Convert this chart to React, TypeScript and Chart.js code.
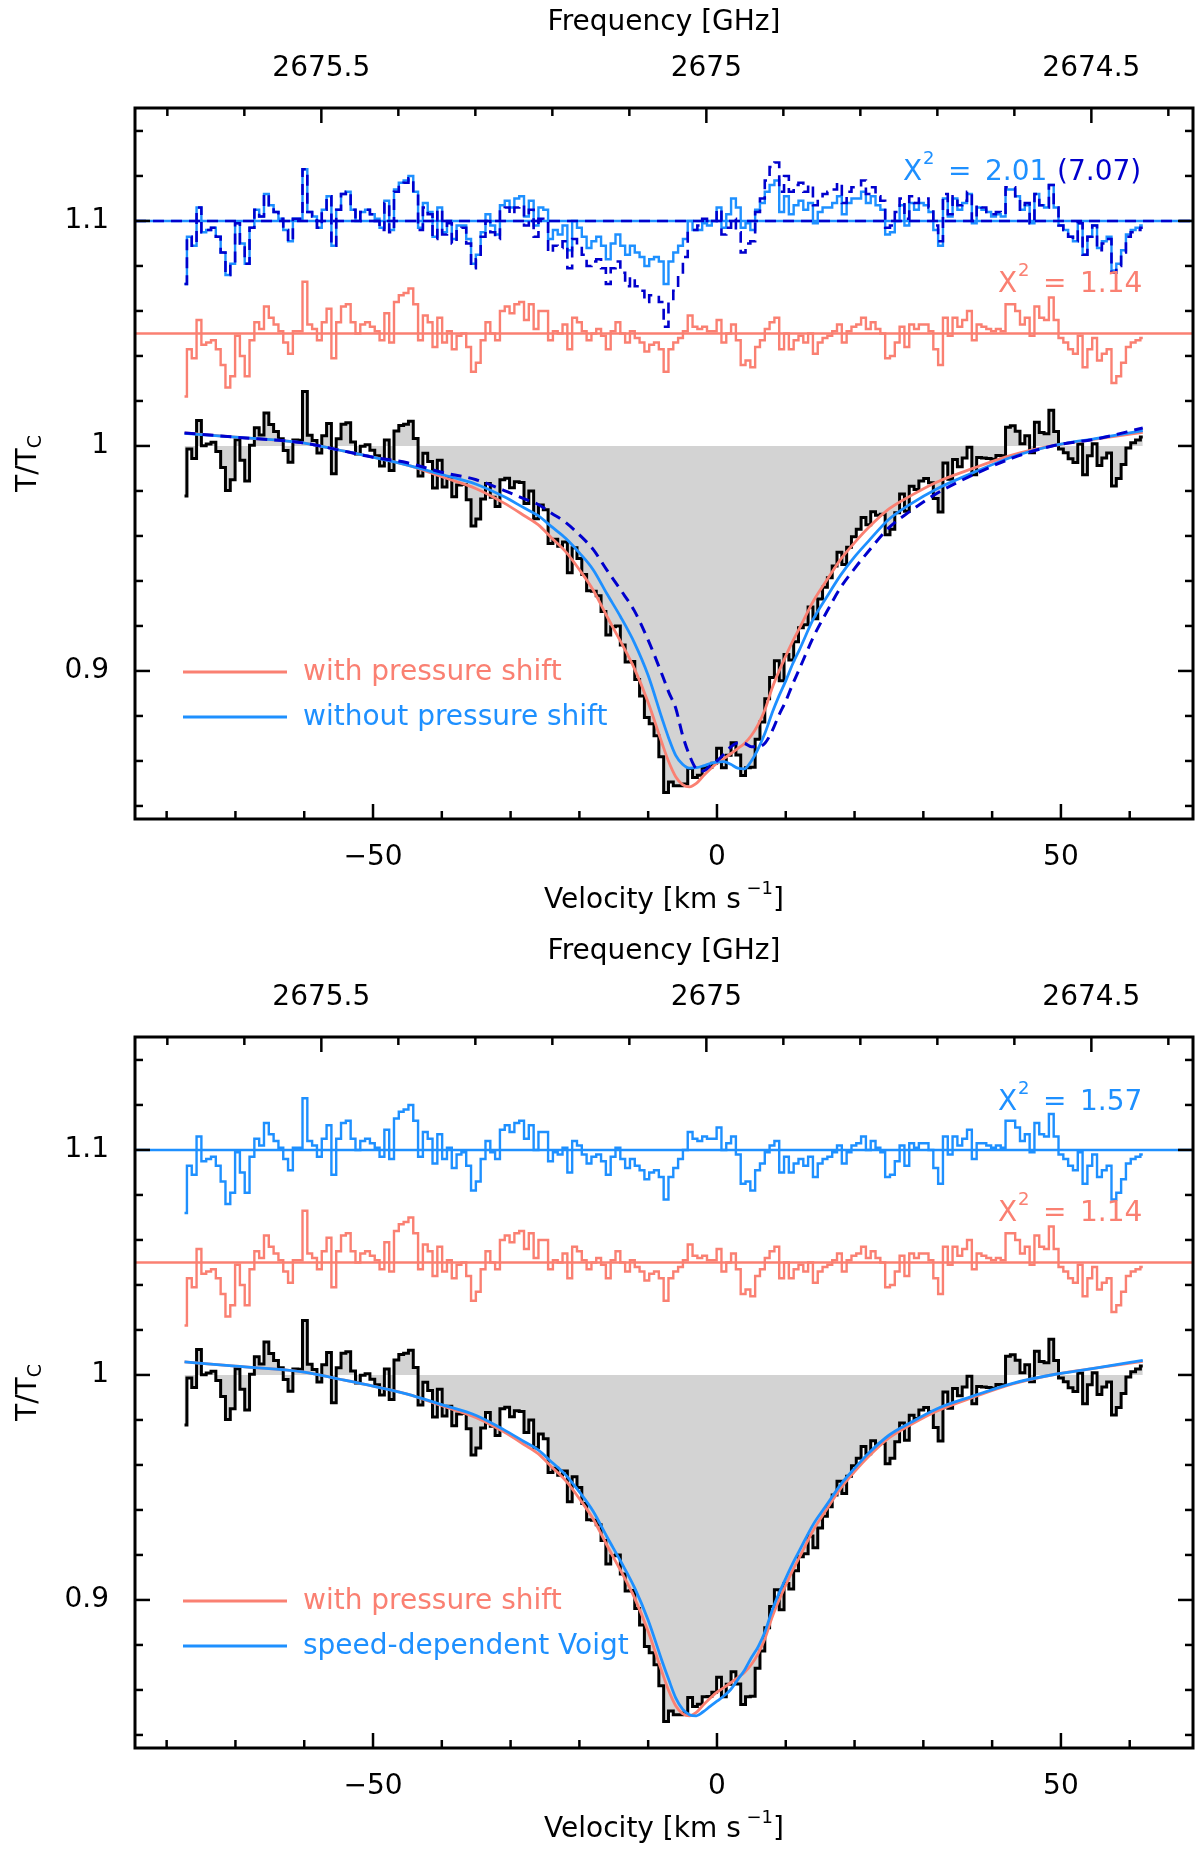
import React, { useEffect, useRef } from "react";
import { Chart, registerables } from "chart.js";

Chart.register(...registerables);

const FONT = "'DejaVu Sans', sans-serif";
const RED = "#fa8072";
const LIGHT_BLUE = "#1e90ff";
const DARK_BLUE = "#0000cd";
const GREY = "#d3d3d3";

// velocity channels (km/s): centre of first channel and channel width
const V_START = -77.4;
const V_STEP = 0.7;

// axis ranges
const V_MIN = -84.6;
const V_MAX = 69.2;
const F_MIN = 2674.368;
const F_MAX = 2675.742;
const Y_MIN = 0.8342;
const Y_MAX = 1.1502;

// labelled (major) ticks
const X_LABELS = [-50, 0, 50];
const FREQ_LABELS = [2675.5, 2675, 2674.5];
const Y_LABELS = [0.9, 1, 1.1];

// observed line-to-continuum ratio T/Tc per channel
const OBSERVED = [
  0.9778, 0.9986, 0.9944, 1.0113, 1.0001, 1.0009, 1.0017, 0.9975, 0.9904, 0.9802,
  0.985, 1.0028, 0.9936, 0.9844, 1.0003, 1.0081, 1.0049, 1.0147, 1.0095, 1.0064,
  1.0032, 0.998, 0.9928, 1.0026, 1.0025, 1.0242, 1.0048, 1.0024, 0.9969, 1.0045,
  1.01, 0.9876, 1.0032, 1.0097, 1.0103, 1.0018, 0.9964, 0.9999, 1.0005, 0.9981,
  0.9956, 0.9911, 1.0026, 0.9891, 1.0066, 1.0091, 1.0096, 1.011, 1.0033, 0.9866,
  0.9968, 0.9931, 0.9813, 0.9936, 0.9818, 0.9861, 0.9774, 0.9826, 0.9829, 0.9761,
  0.9644, 0.9675, 0.9764, 0.9833, 0.9772, 0.9731, 0.985, 0.9857, 0.9814, 0.9841,
  0.9838, 0.9744, 0.98, 0.9676, 0.9738, 0.9717, 0.9566, 0.9585, 0.9554, 0.9573,
  0.9436, 0.9548, 0.95, 0.9429, 0.9357, 0.9354, 0.9334, 0.9264, 0.916, 0.9196,
  0.92, 0.9115, 0.904, 0.9042, 0.8962, 0.8889, 0.8793, 0.8765, 0.8712, 0.8619,
  0.846, 0.8506, 0.849, 0.849, 0.8498, 0.8566, 0.8527, 0.8537, 0.857, 0.8571,
  0.859, 0.8656, 0.857, 0.8625, 0.8681, 0.8627, 0.8535, 0.857, 0.8572, 0.8697,
  0.8773, 0.8877, 0.8971, 0.9045, 0.8956, 0.9073, 0.9049, 0.913, 0.9192, 0.9205,
  0.9284, 0.9232, 0.932, 0.9372, 0.9414, 0.9466, 0.9528, 0.9473, 0.955, 0.9596,
  0.963, 0.9682, 0.965, 0.9708, 0.9692, 0.9696, 0.9605, 0.963, 0.9703, 0.9787,
  0.971, 0.9821, 0.9807, 0.9844, 0.9855, 0.9836, 0.9767, 0.9706, 0.9924, 0.9852,
  0.994, 0.9908, 0.9946, 0.9994, 0.9872, 0.9949, 0.9946, 0.9944, 0.9941, 0.9958,
  0.9956, 1.0083, 1.009, 1.0065, 1.001, 1.0045, 0.997, 1.0105, 1.006, 1.0054,
  1.0159, 1.0064, 0.9987, 0.997, 0.9943, 0.9926, 1.0009, 0.9872, 0.9956, 1.001,
  0.9913, 0.9946, 0.9969, 0.9822, 0.9855, 0.9918, 0.9991, 1.0014, 1.0027, 1.004,
];

// residuals in units of 1e-3, drawn around offset baselines
const RESID_PS = [
  -28, -7, -11, 6, -5, -4, -3, -7, -14, -24,
  -19, -1, -10, -19, -3, 5, 2, 12, 7, 4,
  1, -4, -9, 1, 1, 23, 4, 2, -3, 5,
  11, -11, 5, 12, 13, 5, 0, 4, 5, 3,
  1, -3, 9, -4, 14, 17, 18, 20, 13, -3,
  8, 5, -6, 7, -4, 1, -7, -1, 0, -6,
  -17, -13, -3, 5, 0, -3, 10, 12, 9, 13,
  14, 6, 13, 2, 10, 10, -3, 1, 0, 4,
  -7, 7, 5, 1, -3, 0, 2, -1, -7, 1,
  5, 0, -4, 1, -2, -4, -8, -5, -4, -7,
  -17, -7, -4, -2, 1, 8, 3, 2, 3, 1,
  1, 6, -4, 0, 4, -3, -14, -12, -15, -6,
  -3, 2, 5, 7, -7, 0, -7, -3, -1, -4,
  0, -9, -4, -2, -1, 1, 4, -4, 1, 3,
  4, 7, 2, 5, 2, 0, -11, -10, -4, 3,
  -6, 4, 2, 4, 4, 1, -7, -14, 7, -1,
  7, 3, 6, 10, -3, 4, 3, 2, 1, 2,
  1, 13, 13, 10, 4, 7, -1, 12, 7, 6,
  16, 6, -2, -4, -7, -9, -1, -15, -7, -2,
  -12, -9, -7, -22, -19, -13, -6, -4, -3, -2,
];

const RESID_NOPS = [
  -28, -7, -11, 6, -5, -4, -3, -7, -14, -24,
  -19, -1, -10, -19, -3, 5, 2, 12, 7, 4,
  1, -4, -9, 1, 1, 23, 4, 2, -3, 5,
  11, -11, 5, 12, 13, 5, 0, 4, 5, 3,
  1, -3, 9, -4, 14, 17, 18, 20, 13, -3,
  8, 4, -7, 6, -5, 0, -8, -2, -2, -8,
  -19, -15, -5, 3, -2, -6, 7, 9, 6, 10,
  11, 2, 9, -2, 6, 5, -8, -4, -6, -2,
  -13, 0, -3, -7, -12, -9, -7, -11, -17, -10,
  -6, -11, -15, -11, -14, -16, -20, -17, -16, -18,
  -28, -18, -14, -11, -8, 0, -4, -4, -1, -2,
  0, 6, -3, 3, 10, 6, -3, -1, -4, 5,
  8, 13, 16, 18, 4, 11, 3, 7, 9, 5,
  8, -1, 4, 6, 6, 8, 11, 3, 8, 10,
  10, 13, 8, 11, 7, 5, -6, -5, 0, 7,
  -2, 8, 5, 8, 7, 4, -4, -11, 10, 2,
  10, 5, 8, 12, -1, 6, 5, 4, 2, 3,
  2, 14, 14, 11, 5, 7, -1, 12, 7, 6,
  16, 6, -2, -4, -7, -9, -1, -15, -7, -2,
  -12, -9, -7, -22, -19, -13, -6, -4, -3, -2,
];

const RESID_DASH = [
  -28, -7, -11, 6, -5, -4, -3, -7, -14, -24,
  -19, -1, -10, -19, -3, 5, 2, 12, 7, 4,
  1, -4, -9, 1, 1, 23, 4, 2, -3, 5,
  11, -11, 5, 12, 13, 5, 0, 4, 5, 3,
  0, -4, 8, -5, 13, 16, 17, 19, 12, -4,
  6, 3, -8, 5, -6, -1, -10, -4, -3, -10,
  -21, -17, -7, 0, -5, -8, 5, 6, 3, 6,
  7, -2, 5, -7, 1, 0, -14, -11, -12, -9,
  -21, -8, -11, -15, -20, -18, -17, -21, -28, -21,
  -18, -23, -29, -25, -29, -31, -36, -33, -33, -36,
  -47, -36, -31, -24, -16, -4, -4, -2, 1, 0,
  0, 5, -6, -3, 1, -5, -14, -10, -9, 4,
  10, 18, 24, 26, 13, 20, 13, 16, 17, 13,
  16, 7, 11, 12, 13, 14, 17, 8, 13, 15,
  15, 18, 12, 15, 11, 9, -3, -2, 4, 10,
  1, 11, 8, 10, 10, 6, -2, -9, 12, 3,
  11, 7, 9, 13, 0, 7, 6, 4, 3, 4,
  3, 15, 15, 11, 5, 8, -1, 12, 7, 6,
  16, 6, -2, -4, -7, -9, -1, -15, -7, -2,
  -13, -10, -8, -23, -20, -14, -7, -5, -4, -3,
];

const RESID_SDV = [
  -28, -7, -11, 6, -5, -4, -3, -7, -14, -24,
  -19, -1, -10, -19, -3, 5, 2, 12, 7, 4,
  1, -4, -9, 1, 1, 23, 4, 2, -3, 5,
  11, -11, 5, 12, 13, 5, 0, 4, 5, 3,
  1, -3, 9, -4, 14, 17, 18, 20, 13, -3,
  8, 5, -6, 7, -4, 1, -8, -2, -1, -7,
  -18, -14, -4, 4, -1, -4, 9, 11, 8, 12,
  13, 5, 11, 0, 8, 8, -5, -1, -2, 1,
  -10, 4, 2, -2, -6, -3, -2, -5, -11, -3,
  1, -4, -8, -4, -7, -9, -13, -10, -9, -12,
  -22, -12, -8, -4, 0, 8, 5, 4, 6, 5,
  5, 10, 0, 3, 6, -2, -15, -14, -18, -9,
  -6, -1, 2, 4, -10, -3, -10, -6, -4, -7,
  -3, -12, -6, -4, -3, -1, 2, -6, -1, 2,
  3, 6, 0, 4, 1, -1, -12, -11, -5, 2,
  -7, 3, 1, 3, 3, 0, -8, -15, 6, -2,
  6, 2, 5, 9, -4, 3, 3, 2, 1, 2,
  1, 13, 13, 10, 4, 7, -1, 12, 7, 6,
  16, 6, -2, -4, -7, -9, -1, -15, -7, -2,
  -12, -9, -7, -22, -19, -13, -6, -4, -3, -2,
];

// model profiles, sampled in velocity
const MODEL_V = [
  -77.4, -70, -60, -55, -50, -45, -40, -35, -31, -28, -26, -24, -22, -20, -18, -16, -14, -12,
  -10, -8, -7, -6, -5, -4, -3, -2, -1, 0, 1, 2, 3, 4, 5, 6, 7, 8, 9, 10, 11, 12, 14, 16, 18,
  20, 22, 25, 28, 32, 37, 43, 49, 55, 61.9,
];

const MODEL_PS = [
  1.0058, 1.0039, 1.0013, 0.9982, 0.995, 0.9915, 0.9863, 0.981, 0.9747, 0.969, 0.965, 0.959,
  0.953, 0.945, 0.936, 0.9243, 0.913, 0.901, 0.886, 0.868, 0.8595, 0.853, 0.8495, 0.8485,
  0.85, 0.8533, 0.8563, 0.859, 0.861, 0.8632, 0.8655, 0.8678, 0.8713, 0.8763, 0.883, 0.8922,
  0.8998, 0.9066, 0.9131, 0.919, 0.931, 0.9405, 0.9497, 0.957, 0.9636, 0.972, 0.9776, 0.984,
  0.9898, 0.996, 1.0002, 1.003, 1.006,
];

const MODEL_NOPS = [
  1.0056, 1.0039, 1.0013, 0.9982, 0.995, 0.9915, 0.9873, 0.983, 0.9775, 0.9724, 0.969, 0.964,
  0.959, 0.9525, 0.945, 0.9343, 0.924, 0.9125, 0.898, 0.879, 0.87, 0.8625, 0.8585, 0.8568,
  0.857, 0.8578, 0.8588, 0.8595, 0.8597, 0.8585, 0.8568, 0.8565, 0.86, 0.8655, 0.8725, 0.8812,
  0.8888, 0.8956, 0.9031, 0.9095, 0.923, 0.9331, 0.9427, 0.9507, 0.9576, 0.9674, 0.9739,
  0.981, 0.9878, 0.9952, 1.0002, 1.0033, 1.0068,
];

const MODEL_DASH = [
  1.0058, 1.0039, 1.0013, 0.9982, 0.995, 0.9925, 0.9883, 0.985, 0.9803, 0.9765, 0.974, 0.97,
  0.966, 0.9605, 0.954, 0.9448, 0.936, 0.9267, 0.9137, 0.8985, 0.8905, 0.8835, 0.8715, 0.8625,
  0.8565, 0.8555, 0.8578, 0.86, 0.863, 0.8662, 0.868, 0.8678, 0.8663, 0.8663, 0.868, 0.8732,
  0.8803, 0.8866, 0.8941, 0.901, 0.915, 0.9265, 0.9372, 0.9455, 0.9531, 0.9637, 0.9708, 0.979,
  0.9868, 0.9947, 1.0002, 1.003, 1.008,
];

const MODEL_SDV = [
  1.0058, 1.0039, 1.0013, 0.9982, 0.995, 0.9915, 0.9868, 0.982, 0.9757, 0.9703, 0.9667, 0.9612,
  0.9556, 0.948, 0.9394, 0.9281, 0.9172, 0.9056, 0.891, 0.873, 0.8645, 0.8565, 0.8515, 0.849,
  0.8485, 0.8503, 0.8527, 0.855, 0.8573, 0.8602, 0.8645, 0.8688, 0.8743, 0.8793, 0.886, 0.8952,
  0.9028, 0.9096, 0.9161, 0.922, 0.9336, 0.9425, 0.9514, 0.9585, 0.9651, 0.9732, 0.9786, 0.985,
  0.9904, 0.9963, 1.0002, 1.003, 1.0065,
];

const CHANNEL_V = OBSERVED.map((_, i) => Math.round((V_START + i * V_STEP) * 100) / 100);

interface PanelSpec {
  height: number;
  blueModel: number[];
  blueResid: number[];
  blueLegend: string;
  blueChi: string;
  blueChiX: number;
  blueChiY: number;
  dashModel?: number[];
  dashResid?: number[];
  dashChi?: string;
}

const TOP_PANEL: PanelSpec = {
  height: 929,
  blueModel: MODEL_NOPS,
  blueResid: RESID_NOPS,
  blueLegend: "without pressure shift",
  blueChi: "2.01",
  blueChiX: 903,
  blueChiY: 180,
  dashModel: MODEL_DASH,
  dashResid: RESID_DASH,
  dashChi: "(7.07)",
};

const BOTTOM_PANEL: PanelSpec = {
  height: 924,
  blueModel: MODEL_SDV,
  blueResid: RESID_SDV,
  blueLegend: "speed-dependent Voigt",
  blueChi: "1.57",
  blueChiX: 998,
  blueChiY: 181,
};

const PLOT_TOP = 108;
const PLOT_BOTTOM = 819;
const DASH = [11, 7];

const near = (list: number[], v: number) => list.find((l) => Math.abs(l - v) < 1e-6);

function stepPoints(values: number[]) {
  return values.map((y, i) => ({ x: CHANNEL_V[i], y }));
}
function residPoints(values: number[], base: number) {
  return values.map((d, i) => ({ x: CHANNEL_V[i], y: base + d / 1000 }));
}
function modelPoints(values: number[]) {
  return values.map((y, i) => ({ x: MODEL_V[i], y }));
}
function baseline(y: number) {
  return [
    { x: V_MIN, y },
    { x: V_MAX, y },
  ];
}

function drawChi(ctx: CanvasRenderingContext2D, x0: number, y: number, value: string, color: string) {
  ctx.fillStyle = color;
  ctx.textAlign = "left";
  ctx.textBaseline = "alphabetic";
  ctx.font = `28px ${FONT}`;
  ctx.fillText("X", x0, y);
  ctx.fillText("=", x0 + 45, y);
  ctx.fillText(value, x0 + 82, y);
  ctx.font = `18px ${FONT}`;
  ctx.fillText("2", x0 + 20, y - 16);
}

function drawCentered(
  ctx: CanvasRenderingContext2D,
  parts: { t: string; size: number; dy: number }[],
  cx: number,
  y: number
) {
  let w = 0;
  parts.forEach((p) => {
    ctx.font = `${p.size}px ${FONT}`;
    w += ctx.measureText(p.t).width;
  });
  let x = cx - w / 2;
  ctx.textAlign = "left";
  parts.forEach((p) => {
    ctx.font = `${p.size}px ${FONT}`;
    ctx.fillText(p.t, x, y + p.dy);
    x += ctx.measureText(p.t).width;
  });
}

function decorations(spec: PanelSpec) {
  return {
    id: "decorations",
    afterDatasetsDraw(chart: any) {
      const { ctx, chartArea: a, scales } = chart;
      ctx.save();
      ctx.strokeStyle = "#000";
      ctx.lineWidth = 3;
      ctx.strokeRect(a.left, a.top, a.right - a.left, a.bottom - a.top);
      ctx.lineWidth = 2.5;
      const seg = (x1: number, y1: number, x2: number, y2: number) => {
        ctx.beginPath();
        ctx.moveTo(x1, y1);
        ctx.lineTo(x2, y2);
        ctx.stroke();
      };
      scales.x.ticks.forEach((t: any) => {
        const px = scales.x.getPixelForValue(t.value);
        const len = near(X_LABELS, t.value) !== undefined ? 15 : 8;
        seg(px, a.bottom, px, a.bottom - len);
      });
      scales.x2.ticks.forEach((t: any) => {
        const px = scales.x2.getPixelForValue(t.value);
        const len = near(FREQ_LABELS, t.value) !== undefined ? 15 : 8;
        seg(px, a.top, px, a.top + len);
      });
      scales.y.ticks.forEach((t: any) => {
        const py = scales.y.getPixelForValue(t.value);
        const len = near(Y_LABELS, t.value) !== undefined ? 15 : 8;
        seg(a.left, py, a.left + len, py);
        seg(a.right, py, a.right - len, py);
      });
      ctx.restore();
    },
    afterDraw(chart: any) {
      const { ctx, chartArea: a } = chart;
      const cx = (a.left + a.right) / 2;
      ctx.save();
      ctx.fillStyle = "#000";
      ctx.textBaseline = "alphabetic";
      drawCentered(ctx, [{ t: "Frequency [GHz]", size: 28, dy: 0 }], cx, 30);
      drawCentered(
        ctx,
        [
          { t: "Velocity [km s", size: 28, dy: 0 },
          { t: " \u22121", size: 18, dy: -14 },
          { t: "]", size: 28, dy: 0 },
        ],
        cx,
        908
      );
      // y-axis title
      ctx.save();
      ctx.translate(36, (a.top + a.bottom) / 2);
      ctx.rotate(-Math.PI / 2);
      drawCentered(
        ctx,
        [
          { t: "T/T", size: 28, dy: 0 },
          { t: "C", size: 19, dy: 5 },
        ],
        0,
        0
      );
      ctx.restore();

      // legend
      ctx.lineWidth = 2.8;
      ctx.strokeStyle = RED;
      ctx.beginPath();
      ctx.moveTo(183, 672);
      ctx.lineTo(287, 672);
      ctx.stroke();
      ctx.strokeStyle = LIGHT_BLUE;
      ctx.beginPath();
      ctx.moveTo(183, 717);
      ctx.lineTo(287, 717);
      ctx.stroke();
      ctx.font = `28px ${FONT}`;
      ctx.textAlign = "left";
      ctx.fillStyle = RED;
      ctx.fillText("with pressure shift", 303, 680);
      ctx.fillStyle = LIGHT_BLUE;
      ctx.fillText(spec.blueLegend, 303, 725);

      // chi-square labels
      drawChi(ctx, spec.blueChiX, spec.blueChiY, spec.blueChi, LIGHT_BLUE);
      if (spec.dashChi) {
        ctx.font = `28px ${FONT}`;
        ctx.fillStyle = DARK_BLUE;
        ctx.fillText(spec.dashChi, spec.blueChiX + 154, spec.blueChiY);
      }
      drawChi(ctx, 998, 292, "1.14", RED);
      ctx.restore();
    },
  };
}

function buildConfig(spec: PanelSpec): any {
  const datasets: any[] = [];
  if (spec.dashModel && spec.dashResid) {
    datasets.push(
      { data: baseline(1.1), borderColor: DARK_BLUE, borderWidth: 2.6, borderDash: DASH, order: 0 },
      { data: residPoints(spec.dashResid, 1.1), stepped: "middle", borderColor: DARK_BLUE, borderWidth: 2.6, borderDash: DASH, order: 0 },
      { data: modelPoints(spec.dashModel), borderColor: DARK_BLUE, borderWidth: 3, borderDash: DASH, cubicInterpolationMode: "monotone", order: 0 }
    );
  }
  datasets.push(
    { data: baseline(1.1), borderColor: LIGHT_BLUE, borderWidth: 2.4, order: 1 },
    { data: residPoints(spec.blueResid, 1.1), stepped: "middle", borderColor: LIGHT_BLUE, borderWidth: 2.4, order: 1 },
    { data: modelPoints(spec.blueModel), borderColor: LIGHT_BLUE, borderWidth: 2.8, cubicInterpolationMode: "monotone", order: 1 },
    { data: baseline(1.05), borderColor: RED, borderWidth: 2.4, order: 2 },
    { data: residPoints(RESID_PS, 1.05), stepped: "middle", borderColor: RED, borderWidth: 2.4, order: 2 },
    { data: modelPoints(MODEL_PS), borderColor: RED, borderWidth: 2.8, cubicInterpolationMode: "monotone", order: 2 },
    {
      data: stepPoints(OBSERVED),
      stepped: "middle",
      borderColor: "#000",
      borderWidth: 3,
      fill: { value: 1 },
      backgroundColor: GREY,
      order: 5,
    }
  );

  const tickFont = { family: FONT, size: 28 };
  const h = spec.height;

  return {
    type: "line",
    data: { datasets },
    options: {
      animation: false,
      responsive: false,
      devicePixelRatio: 1,
      events: [],
      layout: { padding: { left: 0, right: 7, top: 0, bottom: 0 } },
      elements: { point: { radius: 0 }, line: { tension: 0 } },
      plugins: { legend: { display: false }, tooltip: { enabled: false } },
      scales: {
        x: {
          type: "linear",
          position: "bottom",
          min: V_MIN,
          max: V_MAX,
          grid: { display: false },
          border: { display: false },
          ticks: {
            stepSize: 10,
            includeBounds: false,
            autoSkip: false,
            maxRotation: 0,
            padding: 14,
            color: "#000",
            font: tickFont,
            callback: (v: any) => {
              const hit = near(X_LABELS, Number(v));
              return hit === undefined ? "" : String(hit).replace("-", "\u2212");
            },
          },
          afterFit: (s: any) => {
            s.height = h - PLOT_BOTTOM;
          },
        },
        x2: {
          type: "linear",
          position: "top",
          reverse: true,
          min: F_MIN,
          max: F_MAX,
          grid: { display: false },
          border: { display: false },
          ticks: {
            stepSize: 0.1,
            includeBounds: false,
            autoSkip: false,
            maxRotation: 0,
            padding: 14,
            color: "#000",
            font: tickFont,
            callback: (v: any) => {
              const hit = near(FREQ_LABELS, Number(v));
              return hit === undefined ? "" : String(hit);
            },
          },
          afterFit: (s: any) => {
            s.height = PLOT_TOP;
          },
        },
        y: {
          type: "linear",
          position: "left",
          min: Y_MIN,
          max: Y_MAX,
          grid: { display: false },
          border: { display: false },
          ticks: {
            stepSize: 0.02,
            includeBounds: false,
            autoSkip: false,
            padding: 18,
            color: "#000",
            font: tickFont,
            callback: (v: any) => {
              const hit = near(Y_LABELS, Number(v));
              return hit === undefined ? "" : String(hit);
            },
          },
          afterFit: (s: any) => {
            s.width = 135;
          },
        },
      },
    },
    plugins: [decorations(spec)],
  };
}

function SpectrumPanel({ spec }: { spec: PanelSpec }) {
  const canvasRef = useRef<HTMLCanvasElement | null>(null);

  useEffect(() => {
    if (!canvasRef.current) return;
    const chart = new Chart(canvasRef.current, buildConfig(spec));
    return () => {
      chart.destroy();
    };
  }, [spec]);

  return (
    <canvas
      ref={canvasRef}
      width={1200}
      height={spec.height}
      style={{ display: "block", width: 1200, height: spec.height }}
    />
  );
}

export default function App() {
  return (
    <div style={{ position: "absolute", left: 0, top: 0, width: 1200, background: "#fff" }}>
      <SpectrumPanel spec={TOP_PANEL} />
      <SpectrumPanel spec={BOTTOM_PANEL} />
    </div>
  );
}
